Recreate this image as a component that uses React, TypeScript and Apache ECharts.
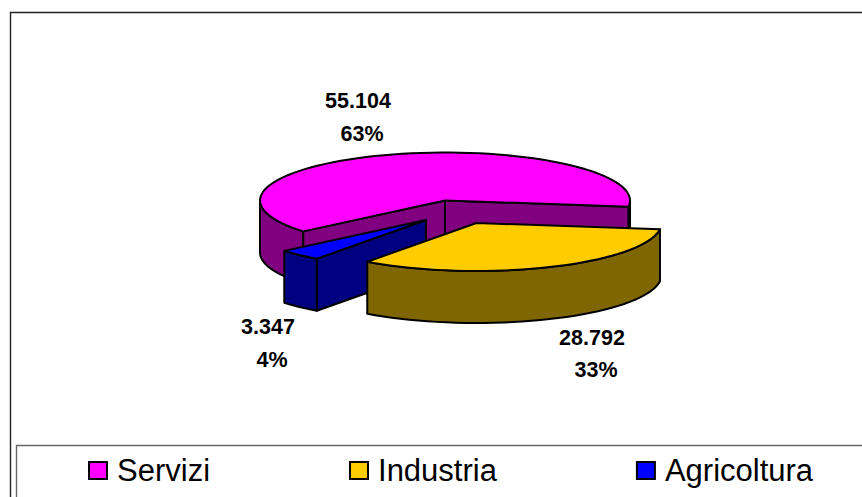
import React, { useEffect, useRef } from "react";
import * as echarts from "echarts";

const categories = ["Servizi", "Industria", "Agricoltura"];
const values = [55104, 28792, 3347];
const topColors = ["#FF00FF", "#FFCC00", "#0000FF"];
const sideColors = ["#800080", "#806600", "#000080"];

const START_ANGLE = 140;
const RX = 185;
const RY = 48;
const DEPTH = 52;
const centers = [[445, 200.5], [476.5, 223], [426, 220]];
const labelAnchors = [[358, 101, 362, 134], [592, 338, 596, 370], [268, 327, 272, 360]];
const FONT = "'Liberation Sans', Arial, sans-serif";

const total = values.reduce((a, b) => a + b, 0);
const sweeps = values.map((v) => (v / total) * 360);

function sliceRange(i: number): [number, number] {
  let a = START_ANGLE;
  for (let k = 0; k < i; k++) a += sweeps[k];
  return [a, a + sweeps[i]];
}

function arcPoints(cx: number, cy: number, from: number, to: number): number[][] {
  const n = Math.max(2, Math.ceil(Math.abs(to - from) / 3));
  const pts: number[][] = [];
  for (let j = 0; j <= n; j++) {
    const t = ((from + ((to - from) * j) / n) * Math.PI) / 180;
    pts.push([cx + RX * Math.cos(t), cy + RY * Math.sin(t)]);
  }
  return pts;
}

const fmt = (v: number) => String(v).replace(/\B(?=(\d{3})+$)/g, ".");

function poly(points: number[][], fill: string) {
  return {
    type: "polygon",
    shape: { points },
    style: { fill, stroke: "#000", lineWidth: 2, lineJoin: "round" },
  };
}

function sideBand(cx: number, cy: number, from: number, to: number, fill: string) {
  const upper = arcPoints(cx, cy, from, to);
  const lower = upper.map((p) => [p[0], p[1] + DEPTH]).reverse();
  return poly(upper.concat(lower), fill);
}

function wall(cx: number, cy: number, angle: number, fill: string) {
  const p = arcPoints(cx, cy, angle, angle)[0];
  return poly([[cx, cy], p, [p[0], p[1] + DEPTH], [cx, cy + DEPTH]], fill);
}

function label(x: number, y: number, text: string) {
  return {
    type: "text",
    z2: 50,
    style: {
      x,
      y,
      text,
      fill: "#000",
      align: "center",
      verticalAlign: "middle",
      font: `bold 21.5px ${FONT}`,
    },
  };
}

function makeRender(i: number) {
  return (_params: any, api: any) => {
    const value = api.value(0);
    const [a0, a1] = sliceRange(i);
    const [cx, cy] = centers[i];
    const side = sideColors[i];
    const children: any[] = [];
    if (i === 0) {
      children.push(sideBand(cx, cy, a0, 180, side));
      children.push(sideBand(cx, cy, 360, a1, side));
      children.push(wall(cx, cy, a0, side));
      children.push(wall(cx, cy, a1, side));
    } else if (i === 1) {
      children.push(sideBand(cx, cy, a0, a1, side));
    } else {
      children.push(wall(cx, cy, a0, side));
      children.push(sideBand(cx, cy, a0, a1, side));
    }
    children.push(poly([[cx, cy]].concat(arcPoints(cx, cy, a0, a1)), topColors[i]));
    const la = labelAnchors[i];
    children.push(label(la[0], la[1], fmt(value)));
    children.push(label(la[2], la[3], `${Math.round((value / total) * 100)}%`));
    return { type: "group", children };
  };
}

const drawOrder = [0, 2, 1];

export default function App() {
  const ref = useRef<HTMLDivElement>(null);
  useEffect(() => {
    const chart = echarts.init(ref.current!, null, { renderer: "svg" });
    chart.setOption({
      animation: false,
      backgroundColor: "#fff",
      legend: {
        data: categories,
        left: 88,
        top: 455,
        padding: 0,
        itemWidth: 18,
        itemHeight: 17,
        itemGap: 139,
        icon: "rect",
        selectedMode: false,
        itemStyle: { borderColor: "#000", borderWidth: 2 },
        textStyle: { fontFamily: FONT, fontSize: 31, color: "#000", padding: [0, 0, 0, 5] },
      },
      graphic: [
        {
          type: "polyline",
          shape: { points: [[10.5, 497], [10.5, 12.5], [862, 12.5]] },
          style: { fill: "none", stroke: "#222", lineWidth: 1.4 },
        },
        {
          type: "polyline",
          shape: { points: [[16.5, 497], [16.5, 445.5], [862, 445.5]] },
          style: { fill: "none", stroke: "#666", lineWidth: 1.4 },
        },
      ],
      series: drawOrder.map((i) => ({
        type: "custom",
        name: categories[i],
        coordinateSystem: "none",
        silent: true,
        itemStyle: { color: topColors[i] },
        data: [[values[i]]],
        renderItem: makeRender(i),
      })),
    });
    return () => chart.dispose();
  }, []);
  return <div ref={ref} style={{ position: "fixed", left: 0, top: 0, width: 862, height: 497 }} />;
}
